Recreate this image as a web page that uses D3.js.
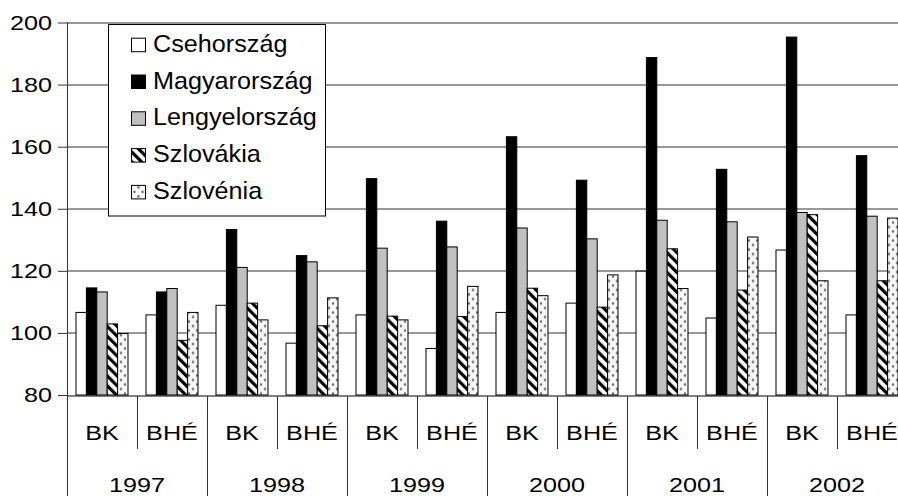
<!DOCTYPE html>
<html>
<head>
<meta charset="utf-8">
<script src="https://cdn.jsdelivr.net/npm/d3@7"></script>
<style>
  body { margin: 0; background: #fff; }
  text { font-family: "Liberation Sans", Arial, sans-serif; fill: #000; }
</style>
</head>
<body>
<div id="chart"></div>
<script>
// categories and values
let years = ["1997", "1998", "1999", "2000", "2001", "2002"];
let kinds = ["BK", "BHÉ"];
let seriesNames = ["Csehország", "Magyarország", "Lengyelország", "Szlovákia", "Szlovénia"];

let cseh    = [106.6, 105.8, 108.9, 96.7, 105.8, 95.0, 106.6, 109.6, 119.9, 104.8, 126.7, 105.8];
let magyar  = [114.5, 113.2, 133.3, 124.9, 149.7, 136.0, 163.2, 149.2, 188.7, 152.7, 195.3, 157.1];
let lengyel = [113.2, 114.3, 121.1, 122.9, 127.3, 127.7, 133.8, 130.3, 136.3, 135.8, 138.8, 137.6];
let szlovak = [102.9, 97.6, 109.6, 102.3, 105.4, 105.3, 114.4, 108.3, 127.1, 113.8, 138.1, 116.8];
let szloven = [99.8, 106.6, 104.2, 111.3, 104.2, 115.0, 112.0, 118.7, 114.3, 130.9, 116.8, 137.0];

let yTicks = [80, 100, 120, 140, 160, 180, 200];

let svgWidth = 898;
let svgHeight = 496;
let margin = { top: 22.5, left: 67 };
let height = 372.5;
let catWidth = 70;

// build category list: year + kind
let cats = [];
years.forEach(y => kinds.forEach(k => cats.push(y + "|" + k)));
let allSeries = [cseh, magyar, lengyel, szlovak, szloven];

let svg = d3.select("#chart").append("svg")
    .attr("width", svgWidth)
    .attr("height", svgHeight);

// patterns
let defs = svg.append("defs");
let stripe = defs.append("pattern")
    .attr("id", "stripe")
    .attr("patternUnits", "userSpaceOnUse")
    .attr("width", 7).attr("height", 7)
    .attr("patternTransform", "rotate(-45)");
stripe.append("rect").attr("width", 7).attr("height", 7).attr("fill", "#fff");
stripe.append("rect").attr("x", 1).attr("width", 3.2).attr("height", 7).attr("fill", "#000");

let dots = defs.append("pattern")
    .attr("id", "dots")
    .attr("patternUnits", "userSpaceOnUse")
    .attr("width", 8).attr("height", 9);
dots.append("rect").attr("width", 8).attr("height", 9).attr("fill", "#f6f6f6");
dots.append("circle").attr("cx", 2).attr("cy", 2).attr("r", 1.2).attr("fill", "#666");
dots.append("circle").attr("cx", 6).attr("cy", 6.5).attr("r", 1.2).attr("fill", "#666");

let fills = ["#fff", "#000", "#c0c0c0", "url(#stripe)", "url(#dots)"];

let chartGroup = svg.append("g")
    .attr("transform", `translate(${margin.left}, ${margin.top})`);

let x0 = d3.scaleBand().domain(cats).range([0, catWidth * cats.length]);
let x1 = d3.scaleBand().domain(seriesNames).range([9, 61]);
let yScale = d3.scaleLinear().domain([80, 200]).range([height, 0]);

// gridlines
chartGroup.selectAll(".grid")
    .data(yTicks.slice(1))
    .enter().append("line")
    .attr("x1", 0).attr("x2", svgWidth)
    .attr("y1", d => Math.round(yScale(d)) + 0.5)
    .attr("y2", d => Math.round(yScale(d)) + 0.5)
    .attr("stroke", "#333");

// bars
allSeries.forEach(function(vals, s) {
    chartGroup.selectAll(".bar" + s)
        .data(vals)
        .enter().append("rect")
        .attr("x", (d, i) => x0(cats[i]) + x1(seriesNames[s]))
        .attr("width", x1.bandwidth())
        .attr("y", d => yScale(d))
        .attr("height", d => yScale(80) - yScale(d))
        .attr("fill", fills[s])
        .attr("stroke", "#000")
        .attr("stroke-width", 1);
});

// y axis
let leftAxis = d3.axisLeft(yScale).tickValues(yTicks).tickSize(9).tickPadding(6);
let yAxis = chartGroup.append("g").call(leftAxis);
yAxis.select(".domain").remove();
yAxis.selectAll("text")
    .attr("font-size", "21px")
    .attr("font-family", "Liberation Sans, Arial, sans-serif")
    .attr("transform", "scale(1.2,1)")
    .attr("x", -15 / 1.2 * 1.0 - 0);
yAxis.selectAll("text").each(function() {
    d3.select(this).attr("x", -15 / 1.2);
});
yAxis.selectAll("line").attr("stroke", "#333");

// axis lines
let base = Math.round(yScale(80)) + 0.5;
chartGroup.append("line")
    .attr("x1", 0).attr("x2", svgWidth).attr("y1", base).attr("y2", base)
    .attr("stroke", "#000");
chartGroup.append("line")
    .attr("x1", 0.5).attr("x2", 0.5).attr("y1", 0).attr("y2", svgHeight)
    .attr("stroke", "#333");

// category separators
cats.forEach(function(c, i) {
    if (i === 0) return;
    let xx = Math.round(x0(c)) + 0.5;
    chartGroup.append("line")
        .attr("x1", xx).attr("x2", xx)
        .attr("y1", base)
        .attr("y2", i % 2 === 0 ? svgHeight : base + 53)
        .attr("stroke", "#333");
});

// category labels
cats.forEach(function(c, i) {
    let cx = x0(c) + catWidth / 2;
    chartGroup.append("text")
        .attr("transform", `translate(${cx}, ${base + 44}) scale(1.2,1)`)
        .attr("text-anchor", "middle")
        .attr("font-size", "21px")
        .text(c.split("|")[1]);
});
years.forEach(function(y, j) {
    let cx = x0(y + "|BK") + catWidth;
    chartGroup.append("text")
        .attr("transform", `translate(${cx}, ${base + 96}) scale(1.2,1)`)
        .attr("text-anchor", "middle")
        .attr("font-size", "21px")
        .text(y);
});

// legend
let legend = svg.append("g").attr("transform", "translate(108.5, 24.5)");
legend.append("rect")
    .attr("width", 217).attr("height", 191.5)
    .attr("fill", "#fff").attr("stroke", "#000");
seriesNames.forEach(function(name, s) {
    let row = legend.append("g").attr("transform", `translate(0, ${27.2 + s * 36.8})`);
    row.append("rect")
        .attr("x", 23).attr("y", -13.5)
        .attr("width", 14).attr("height", 13.5)
        .attr("fill", fills[s]).attr("stroke", "#000");
    row.append("text")
        .attr("transform", "translate(44.5, 0) scale(1.05,1)")
        .attr("font-size", "24px")
        .text(name);
});
</script>
</body>
</html>
